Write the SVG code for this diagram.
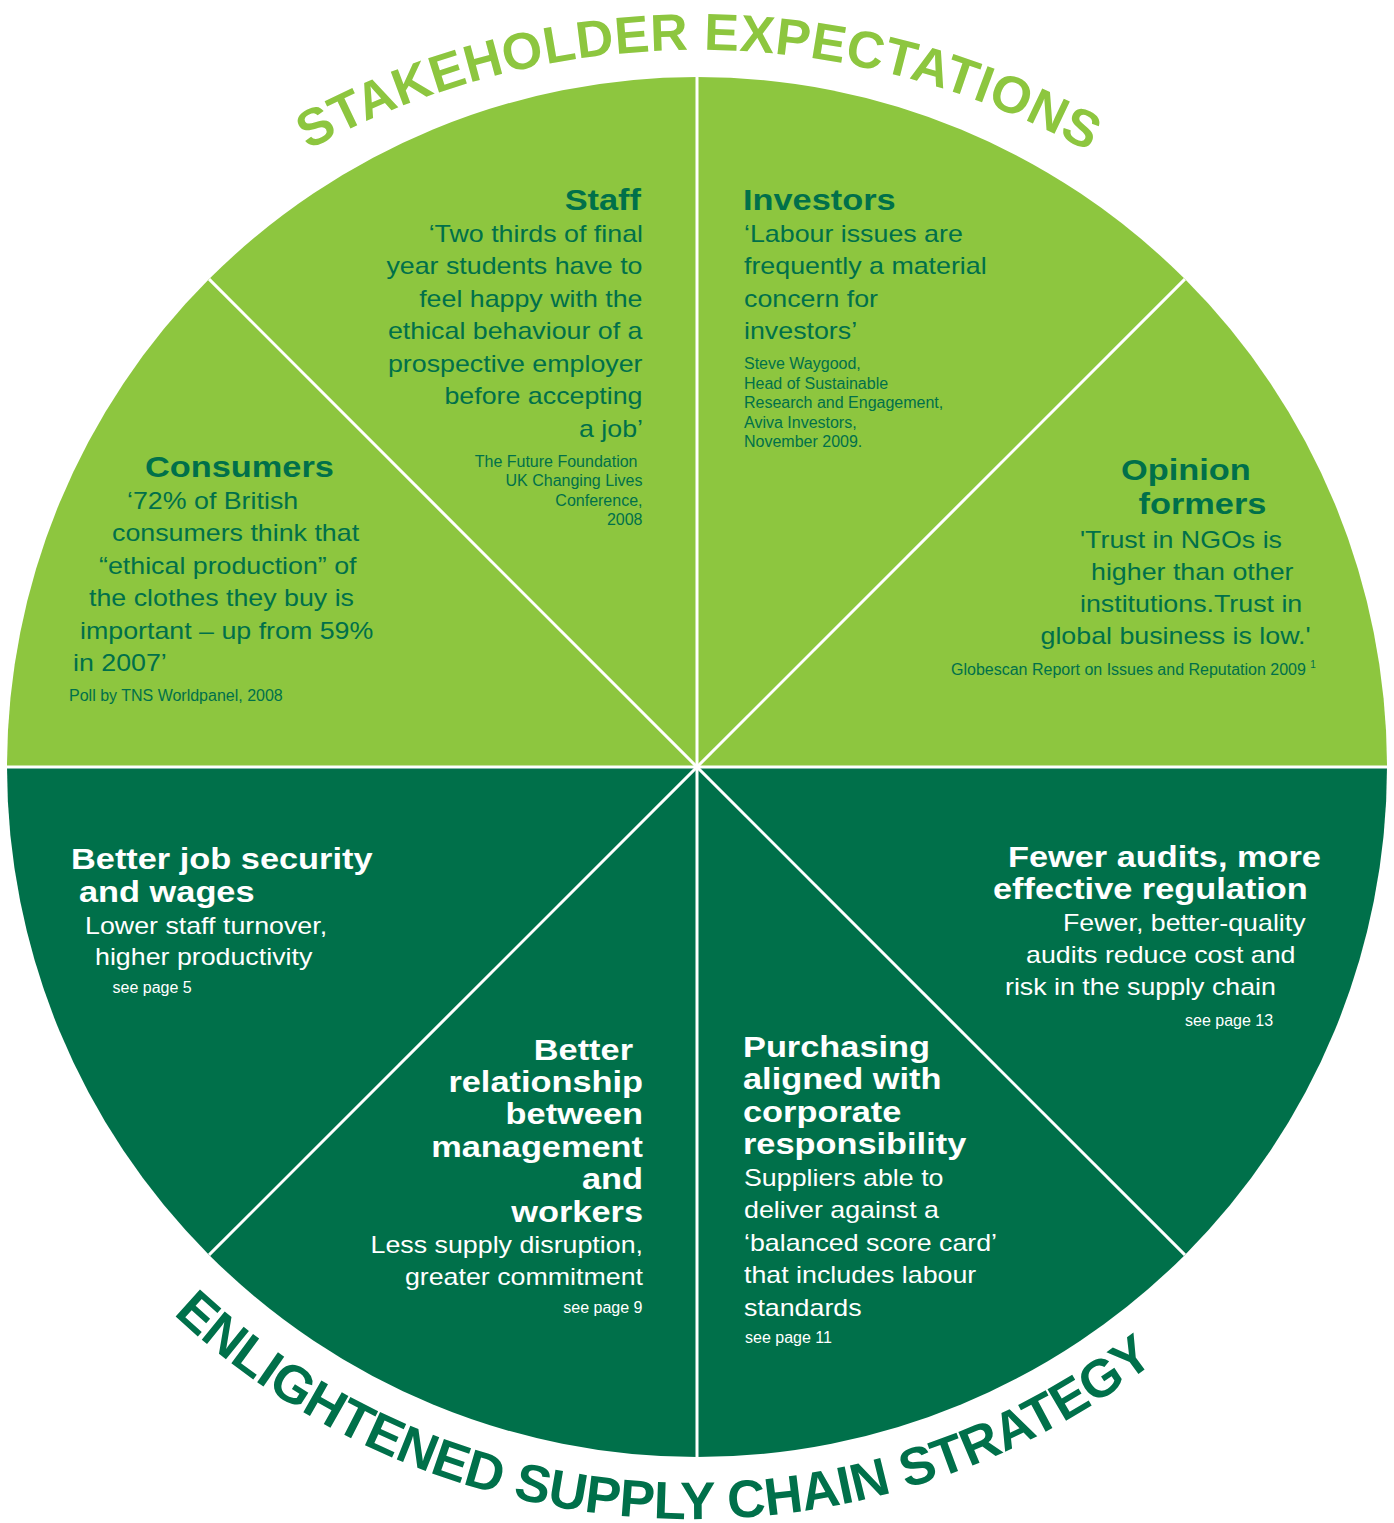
<svg xmlns="http://www.w3.org/2000/svg" width="1394" height="1523" viewBox="0 0 1394 1523">
<style>
text{font-family:"Liberation Sans",Arial,Helvetica,sans-serif}
.h{font-weight:bold;font-size:30px}
.q{font-size:23.4px}
.s{font-size:16px}
.dk{fill:#00704a}
.wt{fill:#ffffff}
.e{text-anchor:end}
.lt{fill:#8dc63f}
.dkf{fill:#00704a}
.arc{font-weight:bold}
.div{stroke:#ffffff;stroke-width:3;fill:none}
</style>
<defs>
<path id="topArc" d="M -57.6,578.4 A 803 803 0 0 1 1451.6,578.4"/>
<path id="botArc" d="M -55.5,891.8 A 759 759 0 0 0 1439.5,891.8"/>
</defs>
<rect width="1394" height="1523" fill="#ffffff"/>

<g id="title-top">
<text class="arc" font-size="52" letter-spacing="0.5" fill="#8dc63f"><textPath href="#topArc" startOffset="983" text-anchor="middle">STAKEHOLDER EXPECTATIONS</textPath></text>
</g>
<g id="title-bottom">
<text class="arc" font-size="53" letter-spacing="-0.4" fill="#00704a"><textPath href="#botArc" startOffset="1023.3" text-anchor="middle">ENLIGHTENED SUPPLY CHAIN STRATEGY</textPath></text>
</g>

<g id="consumers">
<path class="lt" d="M697,767 L7,767 A690,690 0 0 1 209.1,279.1 Z"/>
<text class="h dk" transform="matrix(1.145 0 0 1 145 477)">Consumers</text>
<text class="q dk" transform="matrix(1.145 0 0 1 127 508.5)">‘72% of British</text>
<text class="q dk" transform="matrix(1.145 0 0 1 112 541)">consumers think that</text>
<text class="q dk" transform="matrix(1.145 0 0 1 99 573.5)">“ethical production” of</text>
<text class="q dk" transform="matrix(1.145 0 0 1 89 606)">the clothes they buy is</text>
<text class="q dk" transform="matrix(1.145 0 0 1 80 638.5)">important – up from 59%</text>
<text class="q dk" transform="matrix(1.145 0 0 1 73 670.5)">in 2007’</text>
<text class="s dk" x="69" y="700.5">Poll by TNS Worldpanel, 2008</text>
</g>

<g id="staff">
<path class="lt" d="M697,767 L209.1,279.1 A690,690 0 0 1 697,77 Z"/>
<text class="h dk e" transform="matrix(1.145 0 0 1 641 210)">Staff</text>
<text class="q dk e" transform="matrix(1.145 0 0 1 643 241.7)">‘Two thirds of final</text>
<text class="q dk e" transform="matrix(1.145 0 0 1 642.5 274.2)">year students have to</text>
<text class="q dk e" transform="matrix(1.145 0 0 1 642.5 306.7)">feel happy with the</text>
<text class="q dk e" transform="matrix(1.145 0 0 1 642.5 339.2)">ethical behaviour of a</text>
<text class="q dk e" transform="matrix(1.145 0 0 1 642.5 371.7)">prospective employer</text>
<text class="q dk e" transform="matrix(1.145 0 0 1 642.5 404.2)">before accepting</text>
<text class="q dk e" transform="matrix(1.145 0 0 1 643 436.7)">a job’</text>
<text class="s dk e" x="637.5" y="466.7">The Future Foundation</text>
<text class="s dk e" x="642.5" y="486">UK Changing Lives</text>
<text class="s dk e" x="642.5" y="505.5">Conference,</text>
<text class="s dk e" x="642.5" y="525">2008</text>
</g>

<g id="investors">
<path class="lt" d="M697,767 L697,77 A690,690 0 0 1 1184.9,279.1 Z"/>
<text class="h dk" transform="matrix(1.145 0 0 1 743 210)">Investors</text>
<text class="q dk" transform="matrix(1.145 0 0 1 744 241.7)">‘Labour issues are</text>
<text class="q dk" transform="matrix(1.145 0 0 1 744 274.2)">frequently a material</text>
<text class="q dk" transform="matrix(1.145 0 0 1 744 306.7)">concern for</text>
<text class="q dk" transform="matrix(1.145 0 0 1 744 339.2)">investors’</text>
<text class="s dk" x="744" y="369">Steve Waygood,</text>
<text class="s dk" x="744" y="388.5">Head of Sustainable</text>
<text class="s dk" x="744" y="408">Research and Engagement,</text>
<text class="s dk" x="744" y="427.5">Aviva Investors,</text>
<text class="s dk" x="744" y="447">November 2009.</text>
</g>

<g id="opinion-formers">
<path class="lt" d="M697,767 L1184.9,279.1 A690,690 0 0 1 1387,767 Z"/>
<text class="h dk" transform="matrix(1.145 0 0 1 1121 479.5)">Opinion</text>
<text class="h dk" transform="matrix(1.145 0 0 1 1138.5 513.5)">formers</text>
<text class="q dk" transform="matrix(1.145 0 0 1 1080 547.5)">'Trust in NGOs is</text>
<text class="q dk" transform="matrix(1.145 0 0 1 1091 579.5)">higher than other</text>
<text class="q dk" transform="matrix(1.145 0 0 1 1080 611.5)">institutions.Trust in</text>
<text class="q dk" transform="matrix(1.145 0 0 1 1040.5 643.5)">global business is low.'</text>
<text class="s dk" x="951" y="674.5">Globescan Report on Issues and Reputation 2009 <tspan font-size="10" dy="-7">1</tspan></text>
</g>

<g id="fewer-audits">
<path class="dkf" d="M697,767 L1387,767 A690,690 0 0 1 1184.9,1254.9 Z"/>
<text class="h wt" transform="matrix(1.145 0 0 1 1008 866.7)">Fewer audits, more</text>
<text class="h wt" transform="matrix(1.145 0 0 1 993 898.7)">effective regulation</text>
<text class="q wt" transform="matrix(1.145 0 0 1 1063 931.4)">Fewer, better-quality</text>
<text class="q wt" transform="matrix(1.145 0 0 1 1026 963.4)">audits reduce cost and</text>
<text class="q wt" transform="matrix(1.145 0 0 1 1005 995.4)">risk in the supply chain</text>
<text class="s wt" x="1185" y="1025.7">see page 13</text>
</g>

<g id="purchasing">
<path class="dkf" d="M697,767 L1184.9,1254.9 A690,690 0 0 1 697,1457 Z"/>
<text class="h wt" transform="matrix(1.145 0 0 1 743 1056.7)">Purchasing</text>
<text class="h wt" transform="matrix(1.145 0 0 1 743 1089.1)">aligned with</text>
<text class="h wt" transform="matrix(1.145 0 0 1 743 1121.5)">corporate</text>
<text class="h wt" transform="matrix(1.145 0 0 1 743 1153.9)">responsibility</text>
<text class="q wt" transform="matrix(1.145 0 0 1 744 1186)">Suppliers able to</text>
<text class="q wt" transform="matrix(1.145 0 0 1 744 1218.4)">deliver against a</text>
<text class="q wt" transform="matrix(1.145 0 0 1 744 1250.8)">‘balanced score card’</text>
<text class="q wt" transform="matrix(1.145 0 0 1 744 1283.2)">that includes labour</text>
<text class="q wt" transform="matrix(1.145 0 0 1 744 1315.6)">standards</text>
<text class="s wt" x="745" y="1343.3">see page 11</text>
</g>

<g id="better-relationship">
<path class="dkf" d="M697,767 L697,1457 A690,690 0 0 1 209.1,1254.9 Z"/>
<text class="h wt e" transform="matrix(1.145 0 0 1 633 1059.5)">Better</text>
<text class="h wt e" transform="matrix(1.145 0 0 1 643 1091.9)">relationship</text>
<text class="h wt e" transform="matrix(1.145 0 0 1 643 1124.3)">between</text>
<text class="h wt e" transform="matrix(1.145 0 0 1 643 1156.7)">management</text>
<text class="h wt e" transform="matrix(1.145 0 0 1 643 1189.1)">and</text>
<text class="h wt e" transform="matrix(1.145 0 0 1 643 1221.5)">workers</text>
<text class="q wt e" transform="matrix(1.145 0 0 1 643 1253)">Less supply disruption,</text>
<text class="q wt e" transform="matrix(1.145 0 0 1 643 1285)">greater commitment</text>
<text class="s wt e" x="642.5" y="1313.3">see page 9</text>
</g>

<g id="better-job-security">
<path class="dkf" d="M697,767 L209.1,1254.9 A690,690 0 0 1 7,767 Z"/>
<text class="h wt" transform="matrix(1.145 0 0 1 71 868.5)">Better job security</text>
<text class="h wt" transform="matrix(1.145 0 0 1 79 901.5)">and wages</text>
<text class="q wt" transform="matrix(1.145 0 0 1 85 933.5)">Lower staff turnover,</text>
<text class="q wt" transform="matrix(1.145 0 0 1 95 965)">higher productivity</text>
<text class="s wt" x="112.5" y="992.7">see page 5</text>
</g>

<g id="connectors">
<line class="div" x1="7" y1="767" x2="1387" y2="767"/>
<line class="div" x1="697" y1="77" x2="697" y2="1457"/>
<line class="div" x1="209.1" y1="279.1" x2="1184.9" y2="1254.9"/>
<line class="div" x1="1184.9" y1="279.1" x2="209.1" y2="1254.9"/>
</g>
</svg>
